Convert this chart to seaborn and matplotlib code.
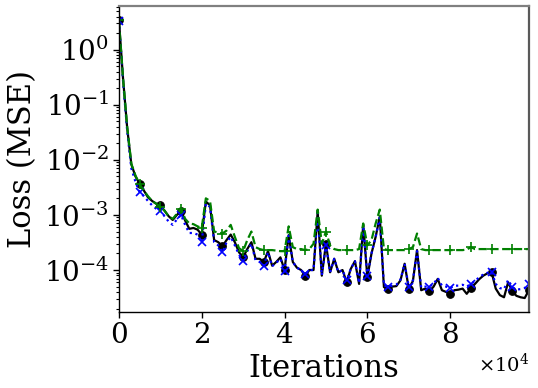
import numpy as np
import pandas as pd
import seaborn as sns
import matplotlib
matplotlib.use("Agg")
import matplotlib.pyplot as plt
from matplotlib.ticker import MultipleLocator

# training loss recorded every 1000 iterations
iterations = np.arange(0, 100000, 1000)

loss_black = [
    3.5, 3.0e-1, 3.8e-2, 8.3e-3, 5.0e-3, 3.7e-3, 2.8e-3, 2.1e-3, 1.8e-3, 1.6e-3,
    1.5e-3, 1.2e-3, 9.5e-4, 8.1e-4, 1.0e-3, 1.17e-3, 7.9e-4, 5.6e-4, 5.8e-4, 5.4e-4,
    4.4e-4, 1.75e-3, 1.5e-3, 3.5e-4, 3.2e-4, 2.7e-4, 3.5e-4, 4.4e-4, 3.2e-4, 2.1e-4,
    1.7e-4, 2.4e-4, 3.2e-4, 1.6e-4, 1.6e-4, 1.4e-4, 2.2e-4, 1.2e-4, 1.4e-4, 1.7e-4,
    1.0e-4, 4.3e-4, 1.4e-4, 1.1e-4, 1.0e-4, 7.9e-5, 1.0e-4, 1.0e-4, 1.15e-3, 7.9e-5,
    3.0e-4, 9.1e-5, 1.6e-4, 9.1e-5, 1.0e-4, 6.0e-5, 1.05e-4, 1.45e-4, 5.6e-5, 6.6e-4,
    7.4e-5, 2.0e-4, 4.0e-4, 9.3e-4, 4.9e-5, 4.6e-5, 5.0e-5, 5.1e-5, 6.5e-5, 1.3e-4,
    4.6e-5, 6.3e-5, 2.3e-4, 4.3e-5, 4.6e-5, 4.1e-5, 5.0e-5, 6.9e-5, 4.3e-5, 4.0e-5,
    3.7e-5, 4.3e-5, 4.4e-5, 4.6e-5, 3.7e-5, 4.7e-5, 5.6e-5, 6.8e-5, 7.9e-5, 8.7e-5,
    9.1e-5, 4.6e-5, 3.5e-5, 3.2e-5, 6.0e-5, 4.1e-5, 3.4e-5, 3.2e-5, 3.1e-5, 4.3e-5,
]

loss_blue = [
    3.3, 2.7e-1, 3.4e-2, 7.0e-3, 4.0e-3, 2.6e-3, 2.2e-3, 1.8e-3, 1.5e-3, 1.3e-3,
    1.2e-3, 9.5e-4, 7.6e-4, 6.6e-4, 8.3e-4, 1.0e-3, 6.6e-4, 4.7e-4, 4.7e-4, 4.4e-4,
    3.2e-4, 1.6e-3, 1.4e-3, 3.2e-4, 2.8e-4, 2.1e-4, 3.2e-4, 4.0e-4, 2.8e-4, 1.9e-4,
    1.45e-4, 2.2e-4, 3.0e-4, 1.5e-4, 1.4e-4, 1.2e-4, 2.1e-4, 1.17e-4, 1.35e-4, 1.6e-4,
    9.5e-5, 4.2e-4, 1.4e-4, 1.1e-4, 1.0e-4, 8.3e-5, 1.0e-4, 1.0e-4, 1.1e-3, 8.0e-5,
    2.9e-4, 9.1e-5, 1.6e-4, 9.1e-5, 1.0e-4, 6.5e-5, 1.05e-4, 1.45e-4, 5.8e-5, 6.4e-4,
    7.8e-5, 2.0e-4, 4.0e-4, 9.0e-4, 5.2e-5, 5.0e-5, 5.2e-5, 5.4e-5, 6.7e-5, 1.3e-4,
    5.0e-5, 6.5e-5, 2.2e-4, 4.8e-5, 5.0e-5, 5.0e-5, 5.6e-5, 7.2e-5, 5.2e-5, 5.0e-5,
    4.7e-5, 5.2e-5, 5.2e-5, 5.4e-5, 5.0e-5, 5.6e-5, 6.3e-5, 7.4e-5, 8.3e-5, 8.9e-5,
    9.3e-5, 5.6e-5, 4.7e-5, 4.5e-5, 6.6e-5, 4.9e-5, 4.4e-5, 4.5e-5, 4.7e-5, 5.6e-5,
]

loss_green = [
    3.4, 3.0e-1, 4.0e-2, 8.5e-3, 5.2e-3, 3.6e-3, 2.8e-3, 2.2e-3, 1.8e-3, 1.6e-3,
    1.4e-3, 1.2e-3, 9.5e-4, 8.5e-4, 1.05e-3, 1.3e-3, 8.5e-4, 7.0e-4, 6.8e-4, 6.2e-4,
    5.8e-4, 2.0e-3, 1.8e-3, 5.0e-4, 4.8e-4, 4.6e-4, 5.2e-4, 6.6e-4, 4.0e-4, 2.5e-4,
    2.2e-4, 3.5e-4, 5.0e-4, 2.6e-4, 2.4e-4, 2.3e-4, 2.3e-4, 2.3e-4, 2.25e-4, 2.2e-4,
    2.2e-4, 6.2e-4, 2.6e-4, 2.4e-4, 2.4e-4, 2.3e-4, 2.4e-4, 3.0e-4, 1.25e-3, 3.0e-4,
    5.0e-4, 2.8e-4, 2.4e-4, 2.3e-4, 2.3e-4, 2.3e-4, 2.3e-4, 2.3e-4, 2.4e-4, 7.0e-4,
    2.8e-4, 3.5e-4, 7.0e-4, 1.25e-3, 2.4e-4, 2.3e-4, 2.3e-4, 2.3e-4, 2.3e-4, 2.3e-4,
    2.4e-4, 2.6e-4, 4.6e-4, 2.4e-4, 2.3e-4, 2.3e-4, 2.3e-4, 2.3e-4, 2.3e-4, 2.3e-4,
    2.3e-4, 2.3e-4, 2.3e-4, 2.3e-4, 2.35e-4, 2.6e-4, 2.4e-4, 2.4e-4, 2.4e-4, 2.4e-4,
    2.4e-4, 2.4e-4, 2.4e-4, 2.4e-4, 2.4e-4, 2.4e-4, 2.4e-4, 2.4e-4, 2.4e-4, 2.4e-4,
]

df = pd.DataFrame({"iter": iterations, "black": loss_black,
                   "blue": loss_blue, "green": loss_green})

sns.set_theme(style="ticks")
plt.rcParams["font.family"] = ["DejaVu Serif"]
plt.rcParams["mathtext.fontset"] = "dejavuserif"
for key in ["text.color", "axes.labelcolor", "xtick.color", "ytick.color"]:
    plt.rcParams[key] = "black"

fig, ax = plt.subplots(figsize=(5.38, 3.88), dpi=100)
fig.subplots_adjust(left=0.221, right=0.983, top=0.985, bottom=0.196)

marks = list(range(0, len(iterations), 5)) + [len(iterations) - 1]

sns.lineplot(data=df, x="iter", y="black", ax=ax, color="black", linestyle="-",
             linewidth=1.6, marker="o", markersize=5.5, markevery=marks,
             markeredgecolor="black", markerfacecolor="black")
sns.lineplot(data=df, x="iter", y="blue", ax=ax, color="blue", linestyle=":",
             linewidth=1.6, marker="x", markersize=6, markevery=marks,
             markeredgecolor="blue", markeredgewidth=1.2)
sns.lineplot(data=df, x="iter", y="green", ax=ax, color="green", linestyle="--",
             linewidth=1.6, marker="+", markersize=7.5, markevery=marks,
             markeredgecolor="green", markeredgewidth=1.2)

ax.set_yscale("log")
ax.set_xlim(iterations[0], iterations[-1])
ax.xaxis.set_major_locator(MultipleLocator(20000))
ax.ticklabel_format(axis="x", style="sci", scilimits=(0, 0), useMathText=True)
ax.xaxis.get_offset_text().set_fontsize(14)

ax.set_xlabel("Iterations", fontsize=22, labelpad=3)
ax.set_ylabel("Loss (MSE)", fontsize=22, labelpad=4)
ax.tick_params(axis="both", which="major", labelsize=20, length=4, width=1,
               color="black", direction="out", pad=3)
ax.tick_params(axis="y", which="minor", length=2.5, width=0.8, color="black")

for side in ["left", "bottom"]:
    ax.spines[side].set_color("black")
    ax.spines[side].set_linewidth(1.0)
ax.spines["top"].set_color("0.5")
ax.spines["top"].set_linewidth(1.6)
ax.spines["right"].set_color("0.35")
ax.spines["right"].set_linewidth(1.6)

fig.savefig("out.png", dpi=100)
